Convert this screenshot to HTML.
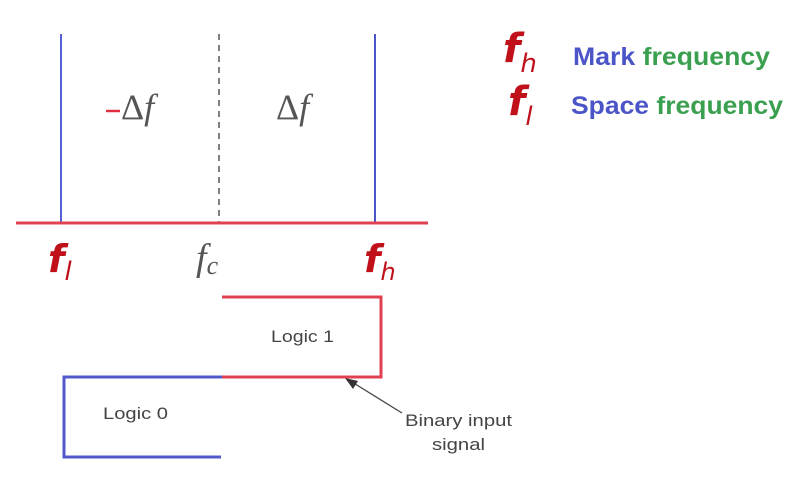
<!DOCTYPE html>
<html><head><meta charset="utf-8"><style>
html,body{margin:0;padding:0;background:#fff;}
svg{display:block;}
</style></head><body>
<svg width="795" height="489" viewBox="0 0 795 489" xmlns="http://www.w3.org/2000/svg">
<rect width="795" height="489" fill="#fff"/>
<!-- spectrum -->
<line x1="61" y1="34" x2="61" y2="223" stroke="#5560d8" stroke-width="2"/>
<line x1="375" y1="34" x2="375" y2="223" stroke="#4a55c8" stroke-width="2"/>
<line x1="219" y1="34" x2="219" y2="223" stroke="#555" stroke-width="1.5" stroke-dasharray="6,5"/>
<line x1="16" y1="223" x2="428" y2="223" stroke="#e04050" stroke-width="3"/>
<line x1="106" y1="111" x2="120" y2="111" stroke="#e03040" stroke-width="2.5"/>
<text x="121" y="119" font-family="Liberation Serif, serif" font-size="36" fill="#555">Δ<tspan font-style="italic">f</tspan></text>
<text x="276" y="119" font-family="Liberation Serif, serif" font-size="36" fill="#555">Δ<tspan font-style="italic">f</tspan></text>
<text x="196" y="270" font-family="Liberation Serif, serif" font-style="italic" font-size="38" fill="#555">f<tspan font-size="26" dy="4">c</tspan></text>
<!-- red labels -->
<g font-family="DejaVu Sans, sans-serif" font-style="italic" font-weight="bold" fill="#c0101a">
<text x="48" y="272" font-size="38">f<tspan font-size="26" dy="8" font-weight="normal">l</tspan></text>
<text x="364" y="272" font-size="38">f<tspan font-size="24" dy="8" font-weight="normal">h</tspan></text>
<text x="503" y="62" font-size="40">f<tspan font-size="26" dy="10" font-weight="normal">h</tspan></text>
<text x="508" y="115" font-size="40">f<tspan font-size="26" dy="10" font-weight="normal">l</tspan></text>
</g>
<g font-family="Liberation Sans, sans-serif" font-weight="bold" font-size="25">
<text x="573" y="65" textLength="197" lengthAdjust="spacingAndGlyphs"><tspan fill="#4b55c8">Mark</tspan> <tspan fill="#3aa050">frequency</tspan></text>
<text x="571" y="114" textLength="212" lengthAdjust="spacingAndGlyphs"><tspan fill="#4b55c8">Space</tspan> <tspan fill="#3aa050">frequency</tspan></text>
</g>
<!-- waveform -->
<polyline points="222,297 381,297 381,377 222,377" fill="none" stroke="#e04050" stroke-width="3"/>
<polyline points="222,377 64,377 64,457 221,457" fill="none" stroke="#5058cc" stroke-width="3"/>
<g font-family="Liberation Sans, sans-serif" font-size="17" fill="#444">
<text x="271" y="342" textLength="63" lengthAdjust="spacingAndGlyphs">Logic 1</text>
<text x="103" y="419" textLength="65" lengthAdjust="spacingAndGlyphs">Logic 0</text>
<text x="405" y="426" textLength="107" lengthAdjust="spacingAndGlyphs">Binary input</text>
<text x="432" y="450" textLength="53" lengthAdjust="spacingAndGlyphs">signal</text>
</g>
<line x1="402" y1="413" x2="352" y2="382" stroke="#444" stroke-width="1.3"/>
<polygon points="345,378 358,381 353,389" fill="#333"/>
</svg>
</body></html>
